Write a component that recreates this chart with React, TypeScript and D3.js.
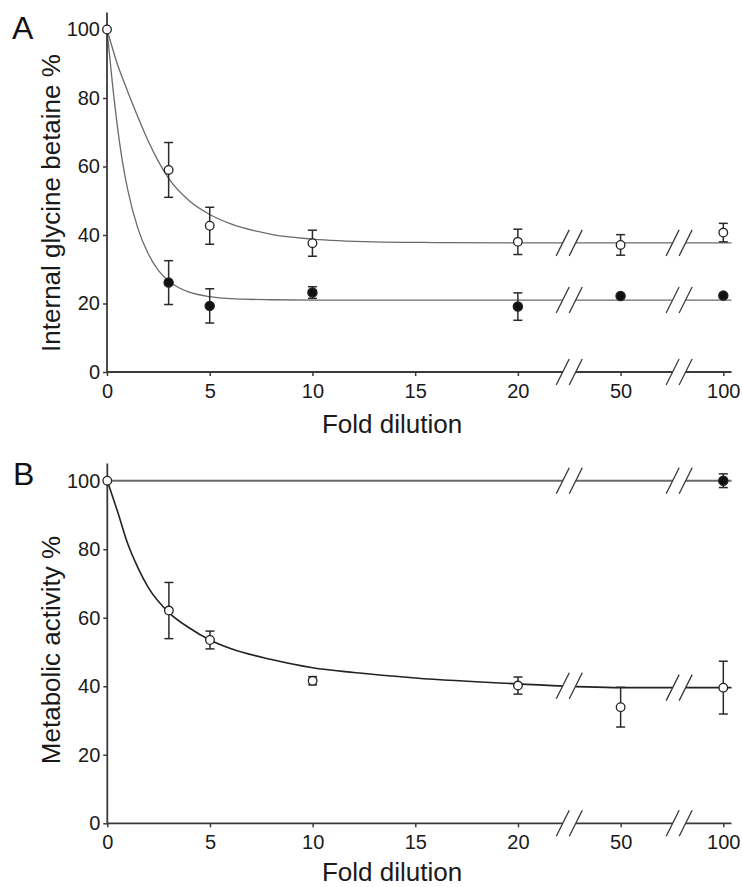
import React, { useRef, useEffect } from "react";
import * as d3 from "d3";

const W = 742;
const H = 887;
const FONT = "'Liberation Sans', Arial, Helvetica, sans-serif";

// shared x values (fold dilution) and ticks
const dilutions = [0, 3, 5, 10, 20, 50, 100];
const xTickValues = [0, 5, 10, 15, 20, 50, 100];
const yTickValues = [0, 20, 40, 60, 80, 100];
const xBreaks = [35, 78.5];

// Panel A - internal glycine betaine %
const betaineOpen = [100, 59, 42.7, 37.6, 38, 37.1, 40.7];
const betaineOpenErr = [0, 8, 5.4, 3.8, 3.7, 3, 2.7];
const betaineFilledX = [3, 5, 10, 20, 50, 100];
const betaineFilled = [26.1, 19.3, 23.2, 19.1, 22.2, 22.3];
const betaineFilledErr = [6.4, 5, 1.7, 4, 0.5, 0.5];

// fitted curves
const fitOpenAX = [0, 0.5, 1, 1.5, 2, 2.5, 3, 4, 5, 6, 8, 10, 13, 16, 20, 50, 100, 104];
const fitOpenA = [100, 90, 82, 74.5, 67.5, 61.5, 56.5, 50, 46, 43.3, 40.2, 38.8, 38, 37.8, 37.7, 37.7, 37.7, 37.7];
const fitFilledAX = [0, 0.25, 0.5, 0.75, 1, 1.5, 2, 2.5, 3, 3.5, 4, 5, 6, 8, 10, 20, 50, 100, 104];
const fitFilledA = [100, 85, 72, 61.5, 53.5, 42, 34.6, 29.7, 26.6, 24.6, 23.3, 22, 21.4, 21.1, 21, 21, 21, 21, 21];

// Panel B - metabolic activity %
const activityOpen = [100, 62.1, 53.5, 41.6, 40.2, 33.9, 39.6];
const activityOpenErr = [0, 8.2, 2.6, 1.2, 2.5, 5.8, 7.7];
const activityFilledX = [100];
const activityFilled = [100];
const activityFilledErr = [2];
const fitOpenBX = [0, 0.5, 1, 1.5, 2, 3, 4, 5, 6, 8, 10, 12, 15, 20, 50, 100, 104];
const fitOpenB = [100, 91, 81.5, 74.5, 68.8, 61.5, 57, 53.5, 51, 47.8, 45.4, 44, 42.4, 40.7, 39.6, 39.6, 39.6];
const fitFilledBX = [0, 104];
const fitFilledB = [100, 100];

type Series = { x: number[]; y: number[]; err: number[]; filled: boolean };
type Fit = { x: number[]; y: number[]; color: string; width: number };

type PanelCfg = {
  label: string;
  labelX: number;
  labelY: number;
  left: number;
  right: number; // pixel of x = 100
  y0: number;
  y100: number;
  yTitle: string;
  yTitleY: number;
  xTitleY: number;
  fits: Fit[];
  series: Series[];
};

const panels: PanelCfg[] = [
  {
    label: "A",
    labelX: 12,
    labelY: 39,
    left: 107,
    right: 723.3,
    y0: 372,
    y100: 29.5,
    yTitle: "Internal glycine betaine %",
    yTitleY: 203,
    xTitleY: 433,
    fits: [
      { x: fitOpenAX, y: fitOpenA, color: "#6a6a6a", width: 1.3 },
      { x: fitFilledAX, y: fitFilledA, color: "#6a6a6a", width: 1.3 },
    ],
    series: [
      { x: betaineFilledX, y: betaineFilled, err: betaineFilledErr, filled: true },
      { x: dilutions, y: betaineOpen, err: betaineOpenErr, filled: false },
    ],
  },
  {
    label: "B",
    labelX: 13,
    labelY: 485,
    left: 107.3,
    right: 723.3,
    y0: 823.3,
    y100: 480.7,
    yTitle: "Metabolic activity %",
    yTitleY: 650,
    xTitleY: 881,
    fits: [
      { x: fitFilledBX, y: fitFilledB, color: "#6a6a6a", width: 2 },
      { x: fitOpenBX, y: fitOpenB, color: "#222", width: 1.6 },
    ],
    series: [
      { x: activityFilledX, y: activityFilled, err: activityFilledErr, filled: true },
      { x: dilutions, y: activityOpen, err: activityOpenErr, filled: false },
    ],
  },
];

const drawPanel = (svg: any, p: PanelCfg) => {
  const u = (p.right - p.left) / 30;
  // broken axis: 0-20 linear, then 50 and 100 each one more 5-unit step
  const x = d3
    .scaleLinear()
    .domain([0, 20, 50, 100])
    .range([p.left, p.left + 20 * u, p.left + 25 * u, p.left + 30 * u]);
  const y = d3.scaleLinear().domain([0, 100]).range([p.y0, p.y100]);
  const xEnd = x(104);
  const axisColor = "#3a3a3a";

  const g = svg.append("g");

  // fitted curves
  const line = d3
    .line<[number, number]>()
    .x((d) => x(d[0]))
    .y((d) => y(d[1]))
    .curve(d3.curveMonotoneX);
  p.fits.forEach((f) => {
    g.append("path")
      .attr("d", line(f.x.map((v, i) => [v, f.y[i]] as [number, number])))
      .attr("fill", "none")
      .attr("stroke", f.color)
      .attr("stroke-width", f.width);
  });

  // y axis
  const yAxis = d3
    .axisLeft(y)
    .tickValues(yTickValues)
    .tickSize(4)
    .tickPadding(3)
    .tickSizeOuter(0);
  const ya = g.append("g").attr("transform", `translate(${p.left},0)`).call(yAxis);
  ya.select(".domain").remove();
  ya.selectAll(".tick line").attr("stroke", axisColor).attr("stroke-width", 1.5);
  ya.selectAll(".tick text")
    .attr("font-size", 20)
    .attr("font-family", FONT)
    .attr("fill", "#1a1a1a");
  g.append("line")
    .attr("x1", p.left)
    .attr("x2", p.left)
    .attr("y1", y(0))
    .attr("y2", y(105))
    .attr("stroke", axisColor)
    .attr("stroke-width", 1.8);

  // x axis
  const xAxis = d3
    .axisBottom(x)
    .tickValues(xTickValues)
    .tickFormat(d3.format("d"))
    .tickSize(4)
    .tickPadding(8)
    .tickSizeOuter(0);
  const xa = g.append("g").attr("transform", `translate(0,${p.y0})`).call(xAxis);
  xa.select(".domain").remove();
  xa.selectAll(".tick line").attr("stroke", axisColor).attr("stroke-width", 1.5);
  xa.selectAll(".tick text")
    .attr("font-size", 20)
    .attr("font-family", FONT)
    .attr("fill", "#1a1a1a");
  g.append("line")
    .attr("x1", p.left)
    .attr("x2", xEnd)
    .attr("y1", p.y0)
    .attr("y2", p.y0)
    .attr("stroke", axisColor)
    .attr("stroke-width", 1.8);

  // axis break marks on every horizontal line
  xBreaks.forEach((bx) => {
    const cx = x(bx);
    const ys = [p.y0, ...p.fits.map((f) => y(d3.scaleLinear().domain(f.x).range(f.y)(bx)))];
    ys.forEach((cy) => {
      const dx = 6.5;
      const dy = 13;
      const gap = 6.5;
      g.append("polygon")
        .attr(
          "points",
          [
            [cx - gap - dx, cy + dy],
            [cx - gap + dx, cy - dy],
            [cx + gap + dx, cy - dy],
            [cx + gap - dx, cy + dy],
          ]
            .map((pt) => pt.join(","))
            .join(" ")
        )
        .attr("fill", "#fff");
      [-gap, gap].forEach((o) => {
        g.append("line")
          .attr("x1", cx + o - dx)
          .attr("y1", cy + dy)
          .attr("x2", cx + o + dx)
          .attr("y2", cy - dy)
          .attr("stroke", "#3a3a3a")
          .attr("stroke-width", 1.3);
      });
    });
  });

  // error bars and points
  p.series.forEach((s) => {
    const pts = s.x.map((v, i) => ({ x: v, y: s.y[i], e: s.err[i] }));
    const eb = g.append("g").attr("stroke", "#2a2a2a").attr("stroke-width", 1.5);
    pts
      .filter((d) => d.e > 0.8)
      .forEach((d) => {
        const px = x(d.x);
        eb.append("line").attr("x1", px).attr("x2", px).attr("y1", y(d.y - d.e)).attr("y2", y(d.y + d.e));
        eb.append("line").attr("x1", px - 4.5).attr("x2", px + 4.5).attr("y1", y(d.y - d.e)).attr("y2", y(d.y - d.e));
        eb.append("line").attr("x1", px - 4.5).attr("x2", px + 4.5).attr("y1", y(d.y + d.e)).attr("y2", y(d.y + d.e));
      });
    g.append("g")
      .selectAll("circle")
      .data(pts)
      .enter()
      .append("circle")
      .attr("cx", (d) => x(d.x))
      .attr("cy", (d) => y(d.y))
      .attr("r", s.filled ? 4.6 : 4.3)
      .attr("fill", s.filled ? "#111" : "#fff")
      .attr("stroke", "#222")
      .attr("stroke-width", 1.3);
  });

  // titles
  g.append("text")
    .attr("x", p.labelX)
    .attr("y", p.labelY)
    .attr("font-size", 32)
    .attr("font-family", FONT)
    .attr("fill", "#111")
    .text(p.label);
  g.append("text")
    .attr("transform", `translate(60,${p.yTitleY}) rotate(-90)`)
    .attr("text-anchor", "middle")
    .attr("font-size", 26)
    .attr("font-family", FONT)
    .attr("fill", "#1a1a1a")
    .text(p.yTitle);
  g.append("text")
    .attr("x", 392)
    .attr("y", p.xTitleY)
    .attr("text-anchor", "middle")
    .attr("font-size", 26)
    .attr("font-family", FONT)
    .attr("fill", "#1a1a1a")
    .text("Fold dilution");
};

const App = () => {
  const svgRef = useRef<SVGSVGElement>(null);

  useEffect(() => {
    const svg = d3
      .select(svgRef.current)
      .attr("width", W)
      .attr("height", H)
      .style("background", "#fff");
    svg.selectAll("*").remove();
    panels.forEach((p) => drawPanel(svg, p));
  }, []);

  return (
    <div>
      <svg
        ref={svgRef}
        style={{ position: "absolute", left: 0, top: 0, display: "block" }}
      ></svg>
    </div>
  );
};

export default App;
